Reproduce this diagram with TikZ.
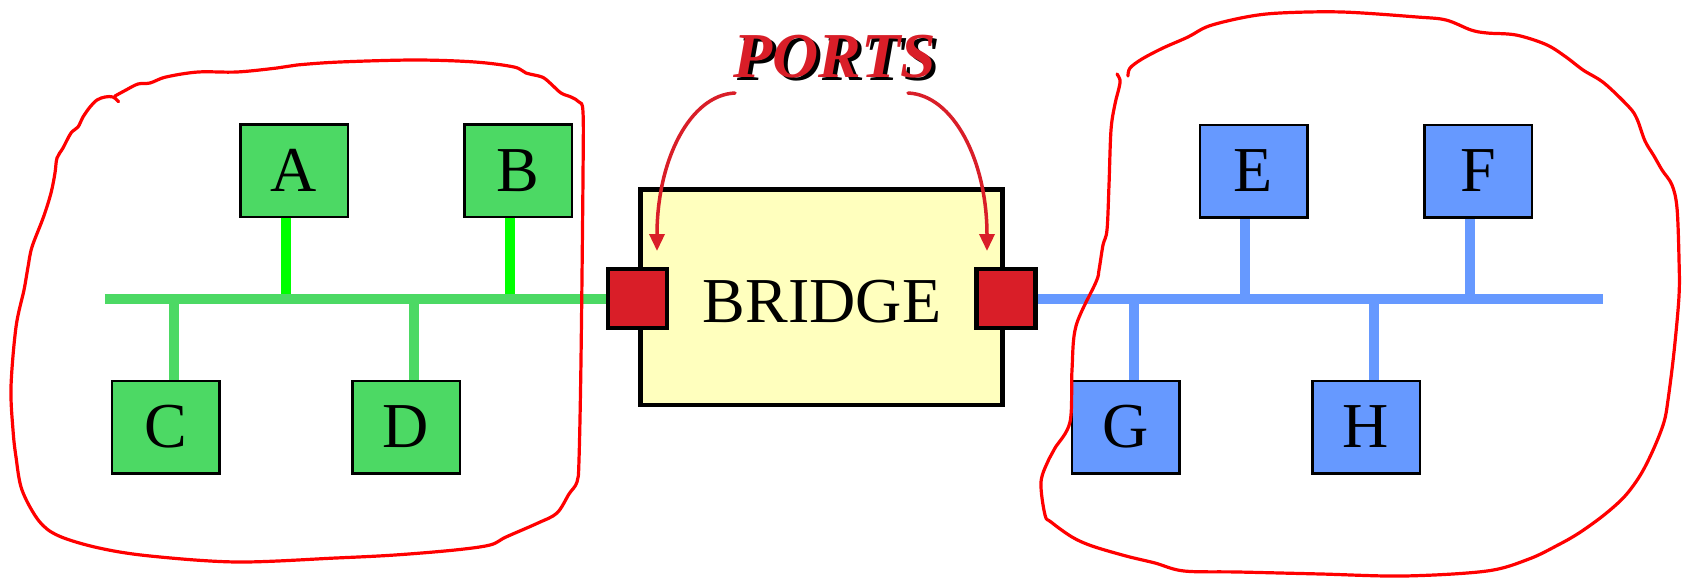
\documentclass[tikz,border=0pt]{standalone}
\usepackage{fontspec}
\setmainfont{Liberation Serif}
\usetikzlibrary{arrows.meta,backgrounds}

\definecolor{lanGreen}{RGB}{76,217,100}
\definecolor{dropGreen}{RGB}{0,255,0}
\definecolor{lanBlue}{RGB}{102,153,255}
\definecolor{bridgeFill}{RGB}{255,255,190}
\definecolor{portRed}{RGB}{217,30,40}
\definecolor{inkRed}{RGB}{255,0,0}

% text with a black drop shadow set behind it
\newcommand{\shadowtext}[1]{\makebox[0pt][l]{\hspace{4pt}\raisebox{-3pt}{\color{black}#1}}#1}

\begin{document}
\begin{tikzpicture}[x=1pt,y=-1pt,
  host/.style={draw=black, line width=2.5pt, minimum width=107.5pt, minimum height=92.5pt,
    inner sep=0pt, font=\fontsize{64}{64}\selectfont},
  greenhost/.style={host, fill=lanGreen},
  bluehost/.style={host, fill=lanBlue},
  portbox/.style={draw=black, line width=4.5pt, fill=portRed, minimum width=59pt,
    minimum height=59pt, inner sep=0pt},
  buswire/.style={line width=10pt},
  tapwire/.style={line width=10pt},
  loopline/.style={draw=inkRed, line width=3.2pt, line cap=round, line join=round},
  pointer/.style={draw=portRed, line width=3.5pt, line cap=round,
    -{Triangle[length=17pt,width=15pt]}},
  portsfont/.style={font=\fontsize{64}{64}\selectfont\bfseries\itshape}
]
\useasboundingbox (0,0) rectangle (1682,581);

% hosts of the two segments
\node[greenhost] (A) at (294,170.5) {A};
\node[greenhost] (B) at (518,170.5) {B};
\node[greenhost] (C) at (165.6,427) {C};
\node[greenhost] (D) at (406,427) {D};
\node[bluehost]  (E) at (1253.5,171) {E};
\node[bluehost]  (F) at (1478,171) {F};
\node[bluehost]  (G) at (1125.5,427) {G};
\node[bluehost]  (H) at (1366,427) {H};

% bridge with its two ports
\node[draw=black, line width=4.5pt, fill=bridgeFill, minimum width=362pt,
  minimum height=215.5pt, inner sep=0pt] (bridge) at (821.5,297) {};
\node[font=\fontsize{64}{64}\selectfont] (bridgeLabel) at (822,302) {BRIDGE};
\node[portbox] (lport) at (637.5,298.5) {};
\node[portbox] (rport) at (1006,298.5) {};

% tap points on the buses
\coordinate (gEnd) at (104.8,298.5);
\coordinate (bEnd) at (1603,298.5);
\coordinate (tA) at (286,298.5);
\coordinate (tB) at (510,298.5);
\coordinate (tC) at (174,298.5);
\coordinate (tD) at (414,298.5);
\coordinate (tE) at (1245.4,298.5);
\coordinate (tF) at (1470,298.5);
\coordinate (tG) at (1134,298.5);
\coordinate (tH) at (1374,298.5);

\begin{scope}[on background layer]
  % drop cables
  \draw[tapwire, dropGreen] (tA |- A.south) -- (tA);
  \draw[tapwire, dropGreen] (tB |- B.south) -- (tB);
  \draw[tapwire, lanGreen] (tC |- C.north) -- (tC);
  \draw[tapwire, lanGreen] (tD |- D.north) -- (tD);
  \draw[tapwire, lanBlue] (tE |- E.south) -- (tE);
  \draw[tapwire, lanBlue] (tF |- F.south) -- (tF);
  \draw[tapwire, lanBlue] (tG |- G.north) -- (tG);
  \draw[tapwire, lanBlue] (tH |- H.north) -- (tH);
  % the two bus segments
  \draw[buswire, lanGreen] (gEnd) -- (lport.center);
  \draw[buswire, lanBlue] (rport.center) -- (bEnd);
\end{scope}

% PORTS label
\node[portsfont, text=portRed] (ports) at (835,58) {\shadowtext{PORTS}};

\coordinate (srcL) at (735,93);
\coordinate (srcR) at (908,93);
\coordinate (tipL) at (657,251);
\coordinate (tipR) at (987,251);
\draw[pointer] (srcL) .. controls (690,95) and (657,160) .. (tipL);
\draw[pointer] (srcR) .. controls (953,95) and (987,160) .. (tipR);

% hand-drawn loops around each segment
\draw[loopline] plot[smooth, tension=0.55] coordinates {
  (118.6,101.7) (113,97) (105,97) (97,100) (90,107) (83,117) (78,127) (71,133)
  (63,148) (57,158) (55,173) (51,193) (43.5,217) (32,247) (28,267) (24,290)
  (16,327) (11,387) (13,430) (16,457) (22,490) (39,521) (59,536) (99,548)
  (150,556) (237,562) (336,558) (395,555) (455,550) (490,545) (506,537)
  (538,523) (557,513) (569,494) (577,482) (579,460) (581,360) (583,177)
  (583,112) (579,102) (571,97) (561,93) (550,83) (542,77) (526,73) (514,67)
  (475,62) (415,60) (340,62) (297,65) (277,68) (237,72) (198,72) (166,77)
  (150,83) (138,84) (126,90) (115,96)};

\draw[loopline] plot[smooth, tension=0.55] coordinates {
  (1117,74) (1120,80) (1119,88) (1115,104) (1111,130) (1109,185) (1107,230)
  (1103,245) (1099,270) (1096,282) (1076,326) (1072,370) (1070,422)
  (1055,448) (1049,459) (1041,482) (1045,515) (1051,522) (1072,537)
  (1092,546) (1126,556) (1155,563) (1184,571) (1238,572) (1321,574)
  (1404,576) (1487,571) (1529,559) (1558,545) (1579,533) (1604,515)
  (1625,496) (1641,474) (1654,448) (1664,422) (1668,400) (1674,352)
  (1679,296) (1679,259) (1677,208) (1672,185) (1662,170) (1654,156)
  (1645,141) (1637,119) (1629,107) (1604,83) (1583,70) (1566,57)
  (1546,44.5) (1516,35) (1487,33) (1471,30) (1446,20) (1417,17) (1342,12)
  (1280,13) (1246,17) (1209,26) (1188,37) (1163,48) (1142,59) (1130,68)
  (1128,76)};
\end{tikzpicture}
\end{document}
